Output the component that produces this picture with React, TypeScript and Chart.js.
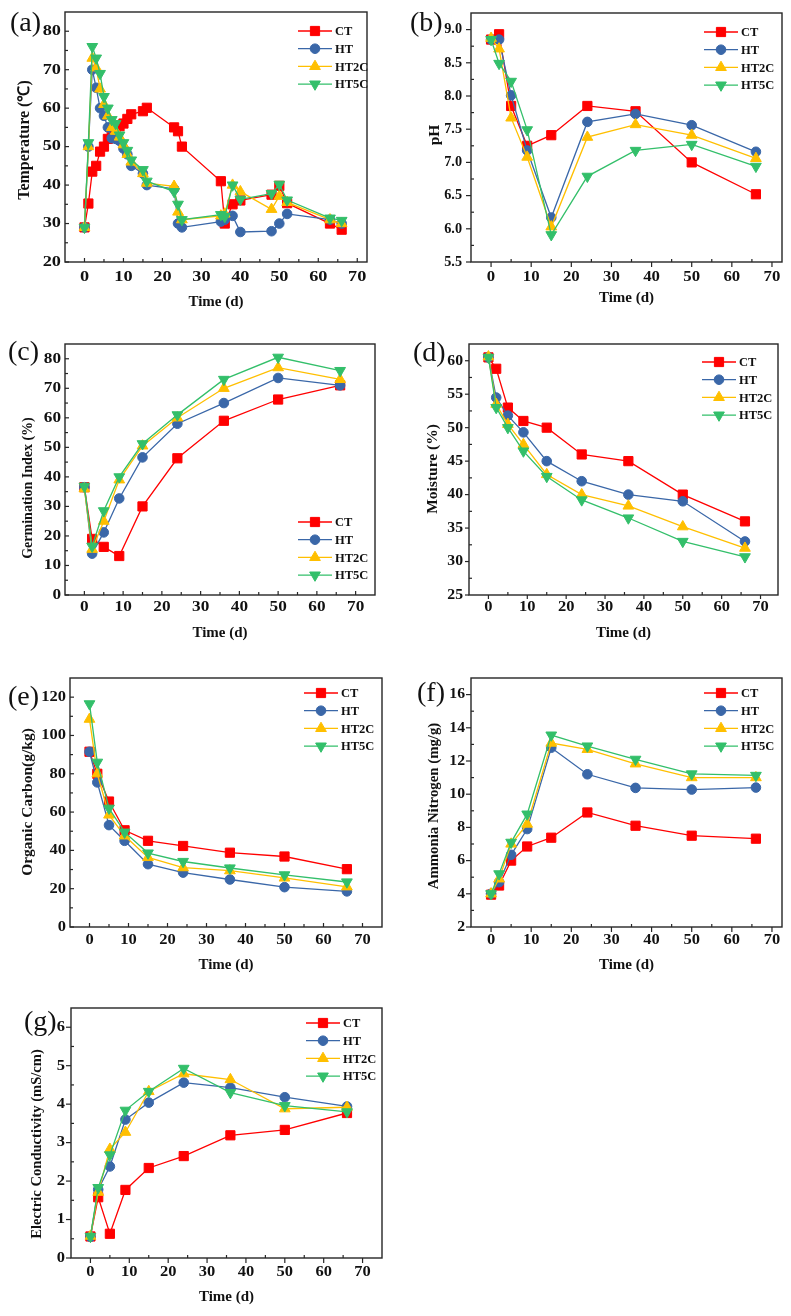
import React, { useEffect, useRef } from 'react';
import { Chart, registerables } from 'chart.js';

Chart.register(...registerables);

// ---------- series meta ----------
const SERIES = ['CT', 'HT', 'HT2C', 'HT5C'];
const COLORS = ['#FF0000', '#3A67A8', '#FFBF00', '#33BF6A'];
const STYLES = ['rect', 'circle', 'triangle', 'triangle'];
const ROTATIONS = [0, 0, 0, 180];
const RADII = [6.5, 4.8, 6.2, 6.2];

// ---------- data ----------
const daysTemp = [0, 1, 2, 3, 4, 5, 6, 7, 8, 9, 10, 11, 12, 15, 16, 23, 24, 25, 35, 36, 38, 40, 48, 50, 52, 63, 66];
const tempCT = [29, 35.2, 43.5, 45, 48.7, 50, 52, 53.2, 54.5, 55.3, 56, 57.2, 58.4, 59.2, 60.1, 55, 54, 50, 41, 30, 35, 36, 37.5, 39.8, 35.3, 30, 28.4];
const tempHT = [29, 50, 70, 65.3, 60, 58, 55, 52.2, 52, 51.5, 49.5, 48, 45, 43, 40, 39, 30, 29, 30.5, 31, 32, 27.8, 28, 30, 32.5, 31, 30];
const tempHT2C = [29, 50, 73, 70.5, 65, 61, 58, 55, 54, 52.5, 50.5, 48, 46, 43, 40.5, 39.7, 33, 31, 32, 32.5, 40, 38.3, 33.7, 37.1, 35.5, 31, 30];
const tempHT5C = [29, 51, 76, 73, 69, 63, 60, 57, 56, 53, 51, 49, 46.5, 44, 41, 38.3, 35, 31, 32.3, 31.8, 40, 36.3, 37.8, 40.2, 36.1, 31.4, 30.8];

const days = [0, 2, 5, 9, 15, 24, 36, 50, 66];

const phCT = [8.85, 8.93, 7.85, 7.25, 7.41, 7.85, 7.77, 7.0, 6.52];
const phHT = [8.85, 8.85, 8.01, 7.18, 6.17, 7.61, 7.73, 7.56, 7.16];
const phHT2C = [8.87, 8.71, 7.67, 7.08, 6.03, 7.38, 7.57, 7.41, 7.06];
const phHT5C = [8.85, 8.49, 8.22, 7.49, 5.91, 6.79, 7.18, 7.27, 6.94];

const giCT = [36.5, 19, 16.3, 13.2, 30, 46.3, 59, 66.2, 71];
const giHT = [36.5, 14, 21.2, 32.7, 46.6, 58, 65, 73.5, 71];
const giHT2C = [36, 15.5, 25, 39, 50.5, 60, 70, 77, 73];
const giHT5C = [36.8, 16.5, 28.5, 40, 51.2, 61, 73, 80.5, 76];

const moCT = [60.5, 58.8, 53, 51, 50, 46, 45, 40, 36];
const moHT = [60.5, 54.5, 51.8, 49.3, 45, 42, 40, 39, 33];
const moHT2C = [60.6, 53.5, 50.5, 47.5, 43, 40, 38.3, 35.2, 32];
const moHT5C = [60.5, 53, 50, 46.5, 42.7, 39.2, 36.5, 33, 30.7];

const ocCT = [91.5, 80, 65.5, 50.5, 45, 42.3, 38.8, 36.8, 30.2];
const ocHT = [91.5, 75.5, 53.2, 45, 32.8, 28.4, 24.8, 20.8, 18.6];
const ocHT2C = [108.5, 80, 58.5, 47.6, 36.3, 31, 29.4, 25.6, 21];
const ocHT5C = [116.5, 86, 62, 49.5, 38.6, 34.2, 30.8, 27.2, 23.5];

const anCT = [3.95, 4.5, 6.0, 6.85, 7.38, 8.9, 8.1, 7.5, 7.32];
const anHT = [4.0, 4.7, 6.35, 7.9, 12.8, 11.2, 10.38, 10.28, 10.4];
const anHT2C = [4.0, 4.9, 7.0, 8.2, 13.08, 12.7, 11.83, 11.0, 11.0];
const anHT5C = [4.0, 5.2, 7.1, 8.8, 13.56, 12.9, 12.1, 11.22, 11.13];

const ecCT = [0.56, 1.58, 0.63, 1.77, 2.34, 2.65, 3.19, 3.33, 3.77];
const ecHT = [0.55, 1.78, 2.38, 3.6, 4.04, 4.56, 4.43, 4.18, 3.94];
const ecHT2C = [0.57, 1.71, 2.83, 3.27, 4.33, 4.79, 4.64, 3.88, 3.92];
const ecHT5C = [0.56, 1.83, 2.68, 3.84, 4.33, 4.93, 4.3, 3.96, 3.8];

// ---------- tick values ----------
const xTicks = [0, 10, 20, 30, 40, 50, 60, 70];
const yTicksTemp = [20, 30, 40, 50, 60, 70, 80];
const yTicksPH = [5.5, 6.0, 6.5, 7.0, 7.5, 8.0, 8.5, 9.0];
const yTicksGI = [0, 10, 20, 30, 40, 50, 60, 70, 80];
const yTicksMO = [25, 30, 35, 40, 45, 50, 55, 60];
const yTicksOC = [0, 20, 40, 60, 80, 100, 120];
const yTicksAN = [2, 4, 6, 8, 10, 12, 14, 16];
const yTicksEC = [0, 1, 2, 3, 4, 5, 6];

const FONT_FAMILY = "'Liberation Serif', 'Times New Roman', serif";

type Box = { l: number; t: number; w: number; h: number };
type Rect = { l: number; t: number; r: number; b: number };

interface PanelCfg {
  label: string;
  labelPos: [number, number];
  x: number[];
  series: number[][];
  yTitle: string;
  yTitlePos: [number, number];
  yTitleSize: number;
  yMin: number;
  yMax: number;
  xMax: number;
  yTicks: number[];
  yDec: number;
  canvas: Box;
  plot: Rect;
  xTitleY: number;
  yGap: number;
  xLabelOff: number;
  majorOut: number;
  xStretch: number;
  yStretch: number;
  legend: { dx: number; dy: number };
}

const PANELS: PanelCfg[] = [
  {
    label: '(a)', labelPos: [10, 24], x: daysTemp, series: [tempCT, tempHT, tempHT2C, tempHT5C],
    yTitle: 'Temperature (℃)', yTitlePos: [25, 140], yTitleSize: 16,
    yMin: 20, yMax: 85, xMax: 72.5, yTicks: yTicksTemp, yDec: 0,
    canvas: { l: 0, t: 0, w: 395, h: 317 }, plot: { l: 65, t: 12, r: 367, b: 262 },
    xTitleY: 302, yGap: 4, xLabelOff: 15, majorOut: -4, xStretch: 1.22, yStretch: 1.22, legend: { dx: 233, dy: 19 },
  },
  {
    label: '(b)', labelPos: [410, 24], x: days, series: [phCT, phHT, phHT2C, phHT5C],
    yTitle: 'pH', yTitlePos: [435, 135], yTitleSize: 15.5,
    yMin: 5.5, yMax: 9.25, xMax: 72.5, yTicks: yTicksPH, yDec: 1,
    canvas: { l: 395, t: 0, w: 396, h: 313 }, plot: { l: 471, t: 13, r: 782, b: 262 },
    xTitleY: 298, yGap: 9, xLabelOff: 15, majorOut: 5, xStretch: 1.12, yStretch: 0.95, legend: { dx: 233, dy: 19 },
  },
  {
    label: '(c)', labelPos: [8, 353], x: days, series: [giCT, giHT, giHT2C, giHT5C],
    yTitle: 'Germination Index (%)', yTitlePos: [28, 488], yTitleSize: 14,
    yMin: 0, yMax: 85, xMax: 75, yTicks: yTicksGI, yDec: 0,
    canvas: { l: 0, t: 320, w: 395, h: 328 }, plot: { l: 65, t: 344, r: 375, b: 595 },
    xTitleY: 633, yGap: 4, xLabelOff: 12, majorOut: -4, xStretch: 1.15, yStretch: 1.15, legend: { dx: 233, dy: 178 },
  },
  {
    label: '(d)', labelPos: [413, 354], x: days, series: [moCT, moHT, moHT2C, moHT5C],
    yTitle: 'Moisture (%)', yTitlePos: [433, 469], yTitleSize: 15.5,
    yMin: 25, yMax: 62.5, xMax: 74.5, yTicks: yTicksMO, yDec: 0,
    canvas: { l: 395, t: 320, w: 396, h: 328 }, plot: { l: 469, t: 344, r: 778, b: 595 },
    xTitleY: 633, yGap: 6, xLabelOff: 12, majorOut: 4, xStretch: 1.1, yStretch: 1.05, legend: { dx: 233, dy: 18 },
  },
  {
    label: '(e)', labelPos: [8, 698], x: days, series: [ocCT, ocHT, ocHT2C, ocHT5C],
    yTitle: 'Organic Carbon(g/kg)', yTitlePos: [28, 802], yTitleSize: 15.5,
    yMin: 0, yMax: 130, xMax: 75, yTicks: yTicksOC, yDec: 0,
    canvas: { l: 0, t: 650, w: 395, h: 330 }, plot: { l: 70, t: 678, r: 382, b: 927 },
    xTitleY: 965, yGap: 4, xLabelOff: 13, majorOut: -4, xStretch: 1.1, yStretch: 1.1, legend: { dx: 234, dy: 15 },
  },
  {
    label: '(f)', labelPos: [417, 694], x: days, series: [anCT, anHT, anHT2C, anHT5C],
    yTitle: 'Ammonia Nitrogen (mg/g)', yTitlePos: [434, 806], yTitleSize: 14.8,
    yMin: 2, yMax: 17, xMax: 72.5, yTicks: yTicksAN, yDec: 0,
    canvas: { l: 395, t: 650, w: 396, h: 330 }, plot: { l: 471, t: 678, r: 782, b: 927 },
    xTitleY: 965, yGap: 6, xLabelOff: 13, majorOut: 5, xStretch: 1.1, yStretch: 1.05, legend: { dx: 233, dy: 15 },
  },
  {
    label: '(g)', labelPos: [24, 1023], x: days, series: [ecCT, ecHT, ecHT2C, ecHT5C],
    yTitle: 'Electric Conductivity (mS/cm)', yTitlePos: [37, 1144], yTitleSize: 14.6,
    yMin: 0, yMax: 6.5, xMax: 75, yTicks: yTicksEC, yDec: 0,
    canvas: { l: 0, t: 970, w: 395, h: 342 }, plot: { l: 71, t: 1008, r: 382, b: 1258 },
    xTitleY: 1297, yGap: 6, xLabelOff: 14, majorOut: 5, xStretch: 1.1, yStretch: 1.1, legend: { dx: 235, dy: 15 },
  },
];

function drawMarker(ctx: CanvasRenderingContext2D, style: string, x: number, y: number, r: number, rotDeg: number, color: string) {
  ctx.save();
  ctx.fillStyle = color;
  ctx.strokeStyle = color;
  ctx.lineWidth = 1;
  ctx.beginPath();
  if (style === 'rect') {
    const s = Math.SQRT1_2 * r;
    ctx.rect(x - s, y - s, 2 * s, 2 * s);
  } else if (style === 'circle') {
    ctx.arc(x, y, r, 0, Math.PI * 2);
  } else {
    let rad = (rotDeg * Math.PI) / 180;
    const step = (2 * Math.PI) / 3;
    ctx.moveTo(x + Math.sin(rad) * r, y - Math.cos(rad) * r);
    rad += step;
    ctx.lineTo(x + Math.sin(rad) * r, y - Math.cos(rad) * r);
    rad += step;
    ctx.lineTo(x + Math.sin(rad) * r, y - Math.cos(rad) * r);
    ctx.closePath();
  }
  ctx.fill();
  ctx.stroke();
  ctx.restore();
}

const TEXT_COLOR = '#111';

const framePlugin = {
  id: 'frame',
  afterDatasetsDraw(chart: any, _args: any, opts: any) {
    const ctx: CanvasRenderingContext2D = chart.ctx;
    const { left, right, top, bottom } = chart.chartArea;
    const xs = chart.scales.x;
    const ys = chart.scales.y;
    ctx.save();
    ctx.strokeStyle = '#262626';
    ctx.lineWidth = 1.4;
    ctx.strokeRect(left, top, right - left, bottom - top);

    ctx.lineWidth = 1.2;
    const major = opts.majorOut as number;
    // x ticks
    const xt: number[] = opts.xTicks;
    const xStep = xt[1] - xt[0];
    xt.forEach((v) => {
      const px = xs.getPixelForValue(v);
      ctx.beginPath();
      ctx.moveTo(px, bottom);
      ctx.lineTo(px, bottom + major);
      ctx.stroke();
    });
    for (let m = xt[0] - xStep / 2; m <= xt[xt.length - 1] + xStep / 2 + 1e-9; m += xStep) {
      if (m <= xs.min + 1e-6 || m >= xs.max - 1e-6) continue;
      const px = xs.getPixelForValue(m);
      ctx.beginPath();
      ctx.moveTo(px, bottom);
      ctx.lineTo(px, bottom - 3);
      ctx.stroke();
    }
    // y ticks
    const yt: number[] = opts.yTicks;
    const yStep = yt[1] - yt[0];
    yt.forEach((v) => {
      const py = ys.getPixelForValue(v);
      ctx.beginPath();
      ctx.moveTo(left, py);
      ctx.lineTo(left - major, py);
      ctx.stroke();
    });
    for (let m = yt[0] - yStep / 2; m <= yt[yt.length - 1] + yStep / 2 + 1e-9; m += yStep) {
      if (m <= ys.min + 1e-6 || m >= ys.max - 1e-6) continue;
      const py = ys.getPixelForValue(m);
      ctx.beginPath();
      ctx.moveTo(left, py);
      ctx.lineTo(left + 3, py);
      ctx.stroke();
    }

    // tick labels (bold serif, slightly widened as in the source figure)
    ctx.fillStyle = TEXT_COLOR;
    ctx.font = `bold 15px ${FONT_FAMILY}`;
    ctx.textBaseline = 'middle';
    xt.forEach((v) => {
      const px = xs.getPixelForValue(v);
      ctx.save();
      ctx.translate(px, bottom + opts.xLabelOff);
      ctx.scale(opts.xStretch, 1);
      ctx.textAlign = 'center';
      ctx.fillText(String(v), 0, 0);
      ctx.restore();
    });
    yt.forEach((v) => {
      const py = ys.getPixelForValue(v);
      ctx.save();
      ctx.translate(left - opts.yGap, py);
      ctx.scale(opts.yStretch, 1);
      ctx.textAlign = 'right';
      ctx.fillText(v.toFixed(opts.yDec), 0, 0);
      ctx.restore();
    });

    // y title
    ctx.save();
    ctx.translate(opts.yTitleX, opts.yTitleY);
    ctx.rotate(-Math.PI / 2);
    ctx.font = `bold ${opts.yTitleSize}px ${FONT_FAMILY}`;
    ctx.textAlign = 'center';
    ctx.textBaseline = 'middle';
    ctx.fillText(opts.yTitle, 0, 0);
    ctx.restore();

    // legend
    const { dx, dy } = opts.legend;
    chart.data.datasets.forEach((ds: any, i: number) => {
      const x0 = left + dx;
      const y = top + dy + i * 17.7;
      ctx.strokeStyle = ds.borderColor;
      ctx.lineWidth = 1.3;
      ctx.beginPath();
      ctx.moveTo(x0, y);
      ctx.lineTo(x0 + 34, y);
      ctx.stroke();
      drawMarker(ctx, ds.pointStyle, x0 + 17, y, ds.pointRadius, ds.pointRotation, ds.borderColor);
      ctx.fillStyle = TEXT_COLOR;
      ctx.font = `bold 12.5px ${FONT_FAMILY}`;
      ctx.textAlign = 'left';
      ctx.textBaseline = 'middle';
      ctx.fillText(ds.label, x0 + 37, y + 1);
    });

    // panel label
    ctx.fillStyle = TEXT_COLOR;
    ctx.font = `28px ${FONT_FAMILY}`;
    ctx.textAlign = 'left';
    ctx.textBaseline = 'middle';
    ctx.fillText(opts.label, opts.labelX, opts.labelY);
    ctx.restore();
  },
};

function Panel({ cfg }: { cfg: PanelCfg }) {
  const ref = useRef<HTMLCanvasElement | null>(null);
  useEffect(() => {
    const canvas = ref.current;
    if (!canvas) return;
    const { canvas: cb, plot } = cfg;
    const canvasBottom = cb.t + cb.h;
    const titleFont = { family: FONT_FAMILY, size: 15, weight: 'bold' as const };
    const chart = new Chart(canvas, {
      type: 'line',
      data: {
        datasets: cfg.series.map((s, i) => ({
          label: SERIES[i],
          data: cfg.x.map((d, j) => ({ x: d, y: s[j] })),
          borderColor: COLORS[i],
          backgroundColor: COLORS[i],
          pointBackgroundColor: COLORS[i],
          pointBorderColor: COLORS[i],
          pointStyle: STYLES[i] as any,
          pointRotation: ROTATIONS[i],
          pointRadius: RADII[i],
          pointBorderWidth: 1,
          borderWidth: 1.3,
          tension: 0,
          order: 3 - i,
          clip: false as any,
        })),
      },
      options: {
        responsive: false,
        animation: false,
        events: [],
        layout: {
          padding: { left: 0, top: plot.t - cb.t, right: cb.l + cb.w - plot.r, bottom: 0 },
        },
        plugins: {
          legend: { display: false },
          tooltip: { enabled: false },
          frame: {
            xTicks,
            yTicks: cfg.yTicks,
            yDec: cfg.yDec,
            yGap: cfg.yGap,
            xLabelOff: cfg.xLabelOff,
            majorOut: cfg.majorOut,
            xStretch: cfg.xStretch,
            yStretch: cfg.yStretch,
            legend: cfg.legend,
            label: cfg.label,
            labelX: cfg.labelPos[0] - cb.l,
            labelY: cfg.labelPos[1] - cb.t,
            yTitle: cfg.yTitle,
            yTitleX: cfg.yTitlePos[0] - cb.l,
            yTitleY: cfg.yTitlePos[1] - cb.t,
            yTitleSize: cfg.yTitleSize,
          },
        } as any,
        scales: {
          x: {
            type: 'linear',
            min: -5,
            max: cfg.xMax,
            grid: { display: false, drawTicks: false, tickLength: 0 },
            border: { display: false },
            afterBuildTicks: (s: any) => {
              s.ticks = xTicks.map((v) => ({ value: v }));
            },
            afterFit: (s: any) => {
              s.height = canvasBottom - plot.b;
            },
            ticks: { display: false },
            title: {
              display: true,
              text: 'Time (d)',
              font: titleFont,
              color: TEXT_COLOR,
              padding: { top: 0, bottom: 6 },
            },
          },
          y: {
            type: 'linear',
            min: cfg.yMin,
            max: cfg.yMax,
            grid: { display: false, drawTicks: false, tickLength: 0 },
            border: { display: false },
            afterBuildTicks: (s: any) => {
              s.ticks = cfg.yTicks.map((v) => ({ value: v }));
            },
            afterFit: (s: any) => {
              s.width = plot.l - cb.l;
            },
            ticks: { display: false },
            title: { display: false },
          },
        },
      } as any,
      plugins: [framePlugin as any],
    });
    return () => chart.destroy();
  }, [cfg]);

  const { canvas: cb } = cfg;
  return (
    <canvas
      ref={ref}
      width={cb.w}
      height={cb.h}
      style={{ position: 'absolute', left: cb.l, top: cb.t, width: cb.w, height: cb.h }}
    />
  );
}

export default function App() {
  return (
    <div style={{ position: 'absolute', left: 0, top: 0, width: 791, height: 1316, background: '#fff' }}>
      {PANELS.map((p) => (
        <Panel key={p.label} cfg={p} />
      ))}
    </div>
  );
}
